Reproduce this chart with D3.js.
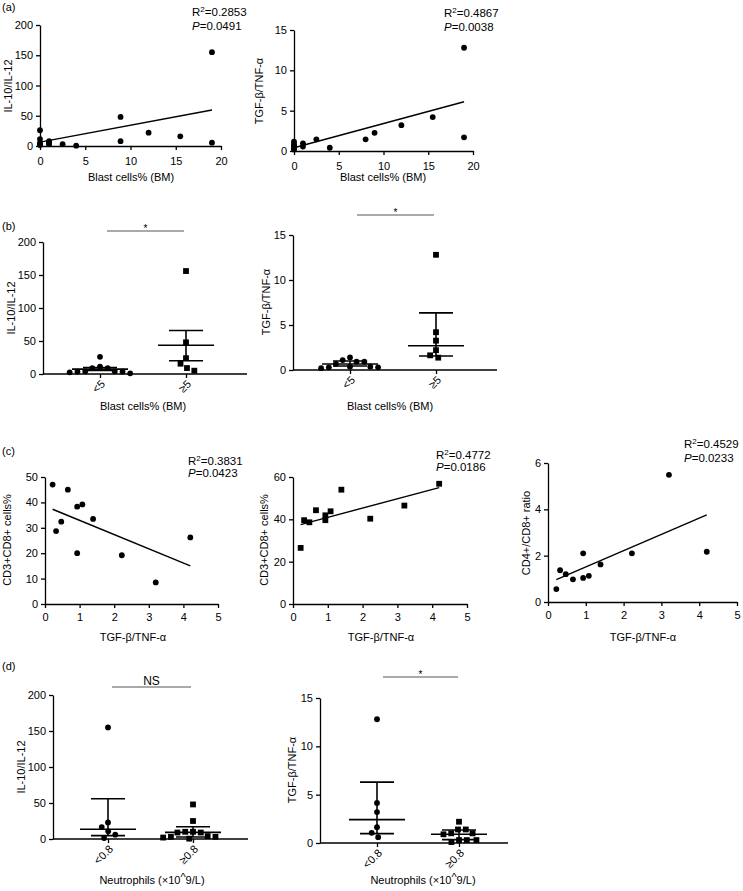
<!DOCTYPE html>
<html><head><meta charset="utf-8">
<script src="https://cdn.jsdelivr.net/npm/d3@7"></script>
<style>
body{margin:0;background:#fff}
svg text{font-family:"Liberation Sans",Arial,Helvetica,sans-serif;fill:#000}
</style>
</head><body>
<svg id="chart" width="743" height="891"></svg>
<script>
// ---------------- data ----------------
// (a) scatter: blast cells% vs ratios
const blastA1 = [0,0,0,0,0,1,1,1,2.5,4,8.9,8.9,12,15.5,19,19];
const ilA1    = [26,11.5,5,3,1.5,8,5,3,3,0.5,48,8,22,16,155,5.5];
const blastA2 = [0,0,0,0,0,0,1,1,2.5,4,8,9,12,15.5,19,19];
const tgfA2   = [1.15,0.85,0.7,0.55,0.3,0.2,0.95,0.55,1.45,0.4,1.45,2.25,3.2,4.2,12.8,1.7];
const fitA1X = [0,19], fitA1Y = [6.5,59.5];
const fitA2X = [0,19], fitA2Y = [0.4,6.1];
const statA1 = ["0.2853","0.0491"], statA2 = ["0.4867","0.0038"];

// (b) grouped by blast cells%
const groupsB = ["<5","\u22655"];
const ilB_low  = [26,9,11,9,3.5,4,2.5,3.5,4,1];
const ilB_high = [156,48,24,15.6,5,9];
const tgfB_low  = [0.93,0.67,1.4,0.93,1.1,0.37,0.37,0.3,0.3,0.2];
const tgfB_high = [12.8,4.2,3.26,2.2,1.37,1.63];
const ilB_mid = [7.4,43.5], ilB_lo = [5.2,20], ilB_hi = [9.8,66];
const tgfB_mid = [0.67,2.7], tgfB_lo = [0.45,1.55], tgfB_hi = [1.0,6.35];

// (c) scatter vs TGF-b/TNF-a
const tgfC   = [0.22,0.32,0.47,0.66,0.93,0.93,1.08,1.39,2.22,3.2,4.2];
const cdNeg  = [47,28.7,32.4,45,38.3,20,39.2,33.5,19.2,8.5,26.2];
const cdPos  = [26.5,39.6,38.6,44.3,41.9,39.6,43.8,54,40.3,46.5,56.8];
const cd4cd8 = [0.56,1.37,1.2,0.98,2.1,1.04,1.13,1.62,2.1,5.49,2.17];
const fitC1X = [0.22,4.2], fitC1Y = [37.3,15];
const fitC2X = [0.22,4.2], fitC2Y = [37.5,55];
const fitC3X = [0.22,4.2], fitC3Y = [0.97,3.76];
const statC1 = ["0.3831","0.0423"], statC2 = ["0.4772","0.0186"], statC3 = ["0.4529","0.0233"];

// (d) grouped by neutrophils
const groupsD = ["<0.8","\u22650.8"];
const ilD_low  = [155,23,16.6,10.6,6,1.4];
const ilD_high = [48,25,10,10,9,9,4,3,3,2,0.5];
const tgfD_low  = [12.8,4.15,3.2,1.64,1.05,0.6];
const tgfD_high = [2.2,1.4,1.4,1.0,1.0,0.9,0.3,0.3,0.3,0.1];
const ilD_mid = [13.5,9.2], ilD_lo = [4.7,2.8], ilD_hi = [56,17];
const tgfD_mid = [2.42,0.9], tgfD_lo = [0.97,0.35], tgfD_hi = [6.3,1.35];

const ticksIL = [0,50,100,150,200], ticksTGF = [0,5,10,15];
const ticksBlast = [0,5,10,15,20], ticksC = [0,1,2,3,4,5];

// ---------------- drawing ----------------
const svg = d3.select("#chart");
const FS = 11;

function styleAxis(g){
  g.selectAll(".domain").attr("stroke","#000").attr("stroke-width",1.3);
  g.selectAll(".tick line").attr("stroke","#000").attr("stroke-width",1.3);
  g.selectAll(".tick text").attr("font-size",FS).attr("fill","#000")
   .attr("font-family",'"Liberation Sans",Arial,sans-serif');
}

function yLabel(x, ymid, txt){
  svg.append("text").attr("transform",`translate(${x},${ymid}) rotate(-90)`)
    .attr("text-anchor","middle").attr("font-size",FS).text(txt);
}
function xLabel(xmid, y, txt){
  svg.append("text").attr("x",xmid).attr("y",y).attr("text-anchor","middle").attr("font-size",FS).text(txt);
}
function panelLabel(y, txt){
  svg.append("text").attr("x",2).attr("y",y).attr("font-size",FS).text(txt);
}
function statText(x, y1, y2, s){
  const t = svg.append("text").attr("x",x).attr("y",y1).attr("font-size",11.5);
  t.append("tspan").text("R");
  t.append("tspan").attr("font-size",8).attr("dy",-4.5).text("2");
  t.append("tspan").attr("dy",4.5).text("=" + s[0]);
  const p = svg.append("text").attr("x",x).attr("y",y2).attr("font-size",11.5);
  p.append("tspan").attr("font-style","italic").text("P");
  p.append("tspan").text("=" + s[1]);
}

function drawMarks(g, pts, shape){
  if (shape === "circle"){
    g.selectAll(null).data(pts).join("circle")
      .attr("cx",d=>d.px).attr("cy",d=>d.py).attr("r",2.9).attr("fill","#000");
  } else {
    const s = 5.8;
    g.selectAll(null).data(pts).join("rect")
      .attr("x",d=>d.px-s/2).attr("y",d=>d.py-s/2).attr("width",s).attr("height",s).attr("fill","#000");
  }
}

function scatterPanel(o){
  const x = d3.scaleLinear().domain([o.xt[0], o.xt[o.xt.length-1]]).range([o.x0,o.x1]);
  const y = d3.scaleLinear().domain([o.yt[0], o.yt[o.yt.length-1]]).range([o.y0,o.y1]);
  const g = svg.append("g");
  g.append("g").attr("transform",`translate(0,${o.y0})`)
    .call(d3.axisBottom(x).tickValues(o.xt).tickSize(4).tickSizeOuter(0).tickPadding(o.xpad).tickFormat(d3.format("d")))
    .call(styleAxis);
  g.append("g").attr("transform",`translate(${o.x0},0)`)
    .call(d3.axisLeft(y).tickValues(o.yt).tickSize(4).tickSizeOuter(0).tickPadding(3).tickFormat(d3.format("d")))
    .call(styleAxis);
  g.append("line").attr("x1",x(o.fx[0])).attr("x2",x(o.fx[1])).attr("y1",y(o.fy[0])).attr("y2",y(o.fy[1]))
    .attr("stroke","#000").attr("stroke-width",1.4);
  const pts = o.xs.map((v,i)=>({px:x(v), py:y(o.ys[i])}));
  drawMarks(g, pts, o.shape);
}

function swarm(vals, y, cx, d){
  const pts = vals.map(v=>({v, py:y(v), dx:0}));
  const order = pts.slice().sort((a,b)=>b.v-a.v);
  const placed = [];
  for (const p of order){
    const blocked = [];
    for (const q of placed){
      const dy = Math.abs(q.py-p.py);
      if (dy < d){ const w = Math.sqrt(d*d-dy*dy); blocked.push([q.dx-w,q.dx+w]); }
    }
    const cands = [0];
    blocked.forEach(b=>cands.push(b[0],b[1]));
    cands.sort((a,b)=>Math.abs(a)-Math.abs(b));
    p.dx = cands.find(c=>blocked.every(b=>c<=b[0]+1e-6 || c>=b[1]-1e-6));
    placed.push(p);
  }
  return pts.map(p=>({px:cx+p.dx, py:p.py}));
}

function groupPanel(o){
  const y = d3.scaleLinear().domain([o.yt[0], o.yt[o.yt.length-1]]).range([o.y0,o.y1]);
  const x = d3.scalePoint().domain(o.cats).range([o.c0,o.c1]);
  const g = svg.append("g");
  g.append("g").attr("transform",`translate(${o.x0},0)`)
    .call(d3.axisLeft(y).tickValues(o.yt).tickSize(4).tickSizeOuter(0).tickPadding(3).tickFormat(d3.format("d")))
    .call(styleAxis);
  const xa = g.append("g").attr("transform",`translate(0,${o.y0})`)
    .call(d3.axisBottom(x).tickSize(4).tickSizeOuter(0).tickFormat(""))
    .call(styleAxis);
  xa.select(".domain").remove();
  g.append("line").attr("x1",o.x0).attr("x2",o.xEnd).attr("y1",o.y0).attr("y2",o.y0)
    .attr("stroke","#000").attr("stroke-width",1.3);
  o.cats.forEach(c=>{
    g.append("text").attr("transform",`translate(${x(c)+3},${o.y0+8}) rotate(-45)`)
      .attr("text-anchor","end").attr("dy","0.35em").attr("font-size",FS).text(c);
  });
  o.groups.forEach((vals,i)=>{
    const cx = x(o.cats[i]);
    const pts = swarm(vals, y, cx, 7.8);
    drawMarks(g, pts, o.shapes[i]);
    const line = (x1,x2,yy)=>g.append("line").attr("x1",x1).attr("x2",x2).attr("y1",yy).attr("y2",yy)
      .attr("stroke","#000").attr("stroke-width",1.6);
    g.append("line").attr("x1",cx).attr("x2",cx).attr("y1",y(o.lo[i])).attr("y2",y(o.hi[i]))
      .attr("stroke","#000").attr("stroke-width",1.6);
    line(cx-28,cx+28,y(o.mid[i]));
    line(cx-17,cx+17,y(o.lo[i]));
    line(cx-17,cx+17,y(o.hi[i]));
  });
  g.append("line").attr("x1",o.sig[0]).attr("x2",o.sig[1]).attr("y1",o.sig[2]).attr("y2",o.sig[2])
    .attr("stroke","#555").attr("stroke-width",1);
  g.append("text").attr("x",(o.sig[0]+o.sig[1])/2).attr("y",o.sigText==="*"?o.sig[2]+1:o.sig[2]-2)
    .attr("text-anchor","middle").attr("font-size",o.sigText==="*"?10:12).text(o.sigText);
}

// ---- (a)
panelLabel(11,"(a)");
scatterPanel({x0:40,x1:221,y0:146,y1:25,xt:ticksBlast,yt:ticksIL,xpad:7,xs:blastA1,ys:ilA1,fx:fitA1X,fy:fitA1Y,shape:"circle"});
yLabel(12,86,"IL-10/IL-12"); xLabel(131,181,"Blast cells% (BM)"); statText(192,16,30,statA1);
scatterPanel({x0:294,x1:473,y0:151,y1:30,xt:ticksBlast,yt:ticksTGF,xpad:7,xs:blastA2,ys:tgfA2,fx:fitA2X,fy:fitA2Y,shape:"circle"});
yLabel(263,91,"TGF-\u03b2/TNF-\u03b1"); xLabel(383,181,"Blast cells% (BM)"); statText(444,17,31,statA2);

// ---- (b)
panelLabel(230,"(b)");
groupPanel({x0:43,xEnd:247,y0:374,y1:242,c0:100,c1:186,yt:ticksIL,cats:groupsB,groups:[ilB_low,ilB_high],
  shapes:["circle","square"],mid:ilB_mid,lo:ilB_lo,hi:ilB_hi,sig:[107,184,231],sigText:"*"});
yLabel(15,308,"IL-10/IL-12"); xLabel(143,410,"Blast cells% (BM)");
groupPanel({x0:293,xEnd:497,y0:370,y1:235,c0:350,c1:436,yt:ticksTGF,cats:groupsB,groups:[tgfB_low,tgfB_high],
  shapes:["circle","square"],mid:tgfB_mid,lo:tgfB_lo,hi:tgfB_hi,sig:[357,434,215],sigText:"*"});
yLabel(270,302,"TGF-\u03b2/TNF-\u03b1"); xLabel(390,410,"Blast cells% (BM)");

// ---- (c)
panelLabel(455,"(c)");
scatterPanel({x0:45,x1:218,y0:604,y1:477,xt:ticksC,yt:[0,10,20,30,40,50],xpad:5,xs:tgfC,ys:cdNeg,fx:fitC1X,fy:fitC1Y,shape:"circle"});
yLabel(11,540,"CD3+CD8+ cells%"); xLabel(133,641,"TGF-\u03b2/TNF-\u03b1"); statText(188,465,477,statC1);
scatterPanel({x0:293,x1:467,y0:604,y1:477,xt:ticksC,yt:[0,20,40,60],xpad:5,xs:tgfC,ys:cdPos,fx:fitC2X,fy:fitC2Y,shape:"square"});
yLabel(268,540,"CD3+CD8+ cells%"); xLabel(381,641,"TGF-\u03b2/TNF-\u03b1"); statText(436,459,471,statC2);
scatterPanel({x0:548,x1:737,y0:602,y1:463,xt:ticksC,yt:[0,2,4,6],xpad:5,xs:tgfC,ys:cd4cd8,fx:fitC3X,fy:fitC3Y,shape:"circle"});
yLabel(530,533,"CD4+/CD8+ ratio"); xLabel(643,641,"TGF-\u03b2/TNF-\u03b1"); statText(684,448,462,statC3);

// ---- (d)
panelLabel(670,"(d)");
groupPanel({x0:53,xEnd:248,y0:839,y1:695,c0:108,c1:193,yt:ticksIL,cats:groupsD,groups:[ilD_low,ilD_high],
  shapes:["circle","square"],mid:ilD_mid,lo:ilD_lo,hi:ilD_hi,sig:[112,191,687],sigText:"NS"});
yLabel(25,767,"IL-10/IL-12");
{
  const t = svg.append("text").attr("x",152).attr("y",884).attr("text-anchor","middle").attr("font-size",FS);
  t.append("tspan").text("Neutrophils (\u00d710");
  t.append("tspan").attr("dy",-3).text("^");
  t.append("tspan").attr("dy",3).text("9/L)");
}
groupPanel({x0:320,xEnd:508,y0:843,y1:698,c0:377,c1:459,yt:ticksTGF,cats:groupsD,groups:[tgfD_low,tgfD_high],
  shapes:["circle","square"],mid:tgfD_mid,lo:tgfD_lo,hi:tgfD_hi,sig:[383,458,677],sigText:"*"});
yLabel(296,770,"TGF-\u03b2/TNF-\u03b1");
{
  const t = svg.append("text").attr("x",423).attr("y",884).attr("text-anchor","middle").attr("font-size",FS);
  t.append("tspan").text("Neutrophils (\u00d710");
  t.append("tspan").attr("dy",-3).text("^");
  t.append("tspan").attr("dy",3).text("9/L)");
}
</script>
</body></html>
